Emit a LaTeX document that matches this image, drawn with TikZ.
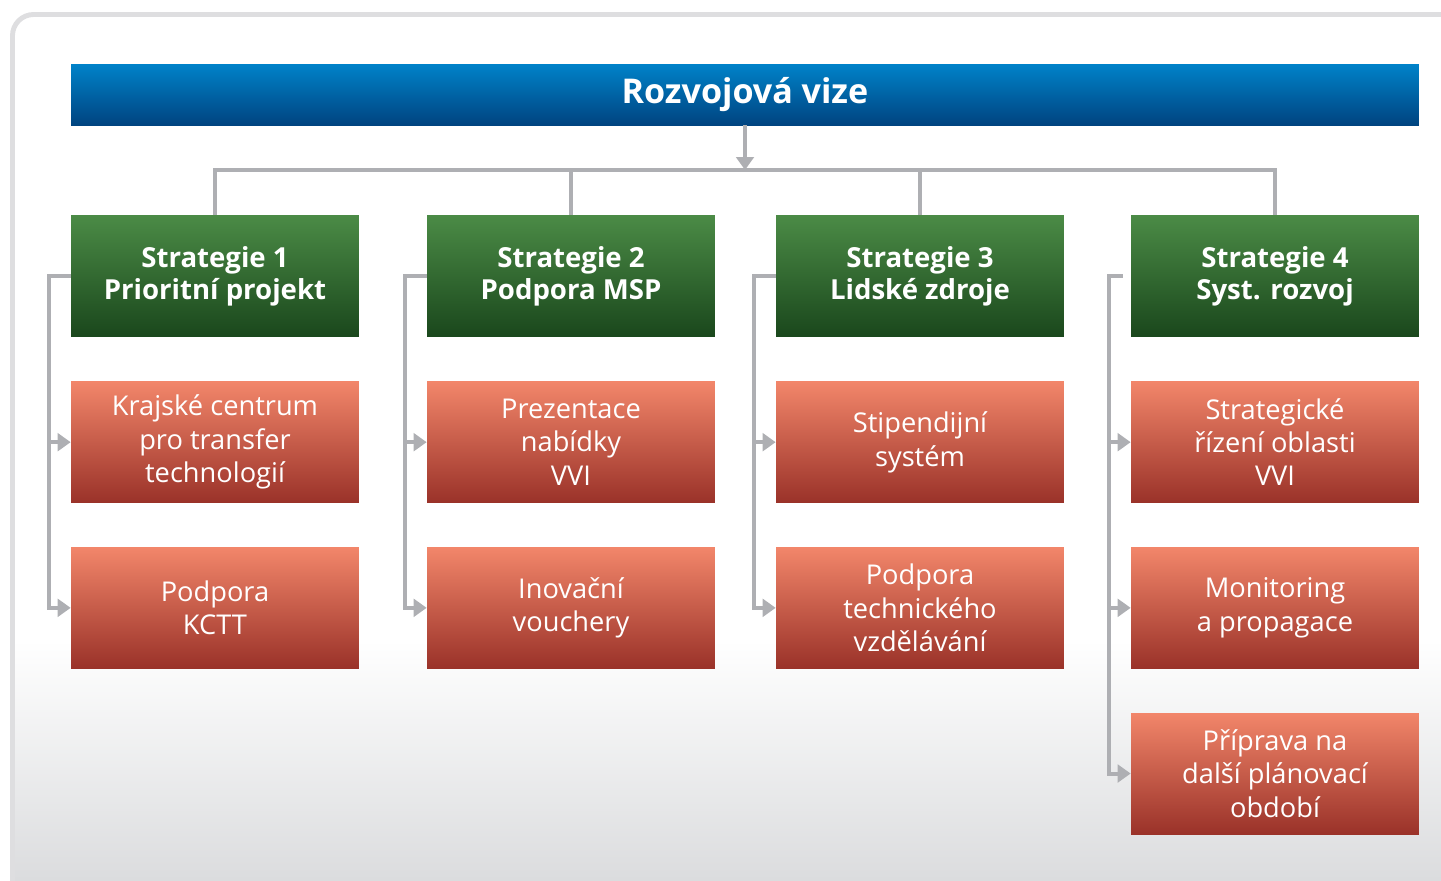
\documentclass[tikz,border=0pt]{standalone}
\usepackage{fontspec}
\setmainfont{Open Sans}
\usepackage{tikz}
\usetikzlibrary{shapes,arrows.meta,positioning,calc}

\definecolor{visetop}{HTML}{0082C9}
\definecolor{visebot}{HTML}{004480}
\definecolor{strtop}{HTML}{4B8B46}
\definecolor{strbot}{HTML}{1A471C}
\definecolor{acttop}{HTML}{F2866A}
\definecolor{actbot}{HTML}{9A3229}
\definecolor{linkgray}{HTML}{AEAFB3}
\definecolor{framegray}{HTML}{DEDEE0}
\definecolor{floorgray}{HTML}{DBDCDE}

\begin{document}
\begin{tikzpicture}[
    x=0.02cm, y=-0.02cm,
    node distance=0.88cm and 1.3cm,
    vision/.style={rectangle, top color=visetop, bottom color=visebot, text=white, minimum width=26.96cm, minimum height=1.22cm, font=\fontsize{19.4}{22}\selectfont\bfseries},
    strategy/.style={rectangle, top color=strtop, bottom color=strbot, text=white, align=center, minimum width=5.76cm, minimum height=2.44cm, font=\fontsize{15.7}{18.2}\selectfont\bfseries},
    action/.style={rectangle, top color=acttop, bottom color=actbot, text=white, align=center, minimum width=5.76cm, minimum height=2.42cm, font=\fontsize{15.5}{19}\selectfont},
    link/.style={draw=linkgray, line width=2.3pt},
    arrow/.style={link, -{Triangle[length=7.4pt, width=10pt]}},
]
    % page and background panel
    \clip (0,0) rectangle (1441,880);
    \begin{scope}
        \clip[rounded corners=12pt] (12.5,14.5) rectangle (1470,910);
        \shade[top color=white, bottom color=floorgray] (0,640) rectangle (1441,880);
    \end{scope}
    \draw[framegray, line width=2.8pt, rounded corners=12pt] (12.5,14.5) rectangle (1470,910);

    \node[vision] (vize) at (745,94.5) {Rozvojová vize};
    \coordinate (hub) at (745,170);

    \node[strategy] (s1) at (215,276) {Strategie 1\\Prioritní projekt};
    \node[strategy] (s2) at (571,276) {Strategie 2\\Podpora MSP};
    \node[strategy] (s3) at (920,276) {Strategie 3\\Lidské zdroje};
    \node[strategy] (s4) at (1275,276) {Strategie 4\\Syst. rozvoj};

    \node[action, below=of s1] (a11) {Krajské centrum\\pro transfer\\technologií};
    \node[action, below=of a11] (a12) {Podpora\\KCTT};
    \node[action, below=of s2] (a21) {Prezentace\\nabídky\\VVI};
    \node[action, below=of a21] (a22) {Inovační\\vouchery};
    \node[action, below=of s3] (a31) {Stipendijní\\systém};
    \node[action, below=of a31] (a32) {Podpora\\technického\\vzdělávání};
    \node[action, below=of s4] (a41) {Strategické\\řízení oblasti\\VVI};
    \node[action, below=of a41] (a42) {Monitoring\\a propagace};
    \node[action, below=of a42] (a43) {Příprava na\\další plánovací\\období};

    % vision to strategies
    \draw[arrow] (vize) -- (hub);
    \draw[link] (s1.north) |- (hub) -| (s4.north);
    \draw[link] (s2.north) -- (s2.north |- hub);
    \draw[link] (s3.north) -- (s3.north |- hub);

    % strategies to actions
    \draw[arrow] (s1.west) -- ++(-22,0) |- (a12.west);
    \draw[arrow] (s1.west) ++(-22,0) |- (a11.west);
    \draw[arrow] (s2.west) -- ++(-22,0) |- (a22.west);
    \draw[arrow] (s2.west) ++(-22,0) |- (a21.west);
    \draw[arrow] (s3.west) -- ++(-22,0) |- (a32.west);
    \draw[arrow] (s3.west) ++(-22,0) |- (a31.west);
    \draw[arrow] ($(s4.west)+(-8,0)$) -- ++(-14,0) |- (a43.west);
    \draw[arrow] (s4.west) ++(-22,0) |- (a41.west);
    \draw[arrow] (s4.west) ++(-22,0) |- (a42.west);
\end{tikzpicture}
\end{document}
